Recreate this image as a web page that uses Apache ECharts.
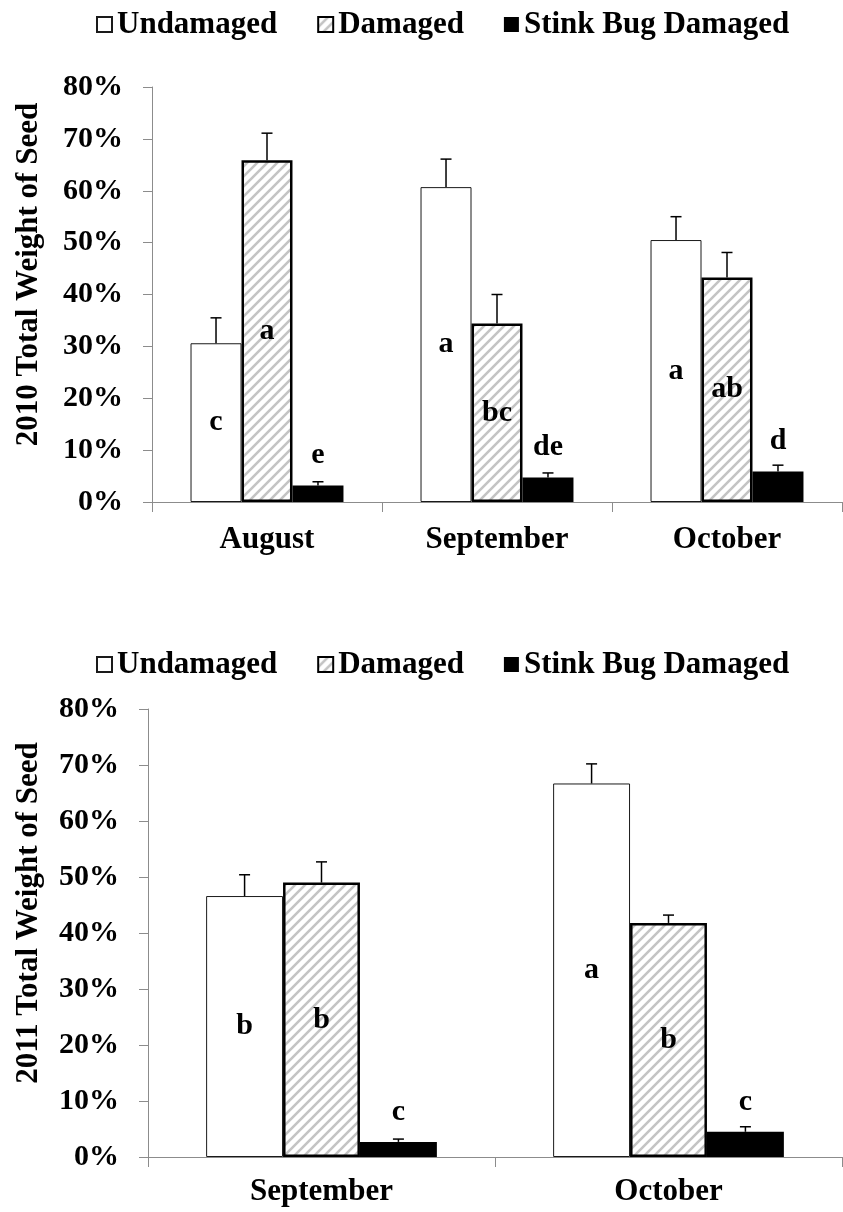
<!DOCTYPE html>
<html>
<head>
<meta charset="utf-8">
<script src="https://cdn.jsdelivr.net/npm/echarts@6/dist/echarts.min.js"></script>
<style>
  html, body { margin: 0; padding: 0; background: #fff; }
  #chart { width: 843px; height: 1212px; }
</style>
</head>
<body>
<div id="chart"></div>
<script>
// ---- data: seed weight share (%) by damage class ----
const seriesNames = ['Undamaged', 'Damaged', 'Stink Bug Damaged'];
const yTickValues = [0, 10, 20, 30, 40, 50, 60, 70, 80];

// 2010 season
const months2010 = ['August', 'September', 'October'];
const undamaged2010 = [30.6, 60.7, 50.5];
const undamagedErr2010 = [4.9, 5.4, 4.5];
const damaged2010 = [65.9, 34.4, 43.3];
const damagedErr2010 = [5.2, 5.6, 4.8];
const stink2010 = [3.2, 4.7, 5.9];
const stinkErr2010 = [0.7, 0.9, 1.2];
const undamagedLetters2010 = ['c', 'a', 'a'];
const damagedLetters2010 = ['a', 'bc', 'ab'];
const stinkLetters2010 = ['e', 'de', 'd'];

// 2011 season
const months2011 = ['September', 'October'];
const undamaged2011 = [46.6, 66.7];
const undamagedErr2011 = [3.8, 3.5];
const damaged2011 = [49.0, 41.8];
const damagedErr2011 = [3.7, 1.4];
const stink2011 = [2.7, 4.5];
const stinkErr2011 = [0.5, 0.9];
const undamagedLetters2011 = ['b', 'a'];
const damagedLetters2011 = ['b', 'b'];
const stinkLetters2011 = ['c', 'c'];

// ---- styling ----
const FONT = "'Liberation Serif', 'Times New Roman', serif";
const AXIS_GREY = '#8c8c8c';
const CAT_GAP = 0.335;          // share of each category left empty
const BAR_COUNT = 3;

// light grey "/" hatching for the Damaged bars
function hatchCanvas() {
  const s = 10;
  const c = document.createElement('canvas');
  c.width = s; c.height = s;
  const g = c.getContext('2d');
  g.fillStyle = '#ffffff';
  g.fillRect(0, 0, s, s);
  g.strokeStyle = '#c4c4c4';
  g.lineWidth = 2.6;
  g.beginPath();
  g.moveTo(-2, s + 2); g.lineTo(s + 2, -2);
  g.moveTo(-2, 2); g.lineTo(2, -2);
  g.moveTo(s - 2, s + 2); g.lineTo(s + 2, s - 2);
  g.stroke();
  return c;
}
const hatch = { image: hatchCanvas(), repeat: 'repeat' };

const letterStyle = {
  show: true,
  fontFamily: FONT,
  fontWeight: 'bold',
  fontSize: 30,
  color: '#000'
};

const barStyles = [
  { color: '#ffffff', borderColor: '#1a1a1a', borderWidth: 1 },
  { color: hatch, borderColor: '#000000', borderWidth: 2.5 },
  { color: '#000000', borderColor: '#000000', borderWidth: 0 }
];

function barSeries(idx, name, values, letters, slot, above) {
  return {
    type: 'bar',
    name: name,
    xAxisIndex: idx,
    yAxisIndex: idx,
    data: values,
    barGap: '0%',
    barCategoryGap: (CAT_GAP * 100) + '%',
    itemStyle: barStyles[slot],
    label: Object.assign({}, letterStyle, {
      position: above ? 'top' : 'inside',
      distance: above ? 15 : 0,
      formatter: (p) => letters[p.dataIndex]
    }),
    z: 2
  };
}

// upward standard-error whisker with a small cap, centred on its bar
function errorSeries(idx, values, errs, slot) {
  return {
    type: 'custom',
    xAxisIndex: idx,
    yAxisIndex: idx,
    data: values.map((v, i) => [i, v, v + errs[i]]),
    encode: { x: 0, y: [1, 2] },
    silent: true,
    z: 3,
    renderItem: (params, api) => {
      const cat = api.value(0);
      const base = api.coord([cat, api.value(1)]);
      const top = api.coord([cat, api.value(2)]);
      const band = api.size([1, 0])[0];
      const barW = band * (1 - CAT_GAP) / BAR_COUNT;
      const x = base[0] + (slot - 1) * barW;
      const cap = 5.5;
      const st = { stroke: '#000', lineWidth: 1.5 };
      return {
        type: 'group',
        children: [
          { type: 'line', shape: { x1: x, y1: base[1], x2: x, y2: top[1] }, style: st },
          { type: 'line', shape: { x1: x - cap, y1: top[1], x2: x + cap, y2: top[1] }, style: st }
        ]
      };
    }
  };
}

function legendAt(top) {
  return {
    top: top,
    left: 91,
    icon: 'rect',
    itemWidth: 15,
    itemHeight: 15,
    itemGap: 40,
    selectedMode: false,
    data: seriesNames,
    textStyle: { fontFamily: FONT, fontWeight: 'bold', fontSize: 31, color: '#000' }
  };
}

function xAxisFor(idx, cats, margin) {
  return {
    gridIndex: idx,
    type: 'category',
    data: cats,
    axisLine: { lineStyle: { color: AXIS_GREY, width: 1 } },
    axisTick: { show: true, length: 10, lineStyle: { color: AXIS_GREY } },
    axisLabel: { margin: margin, fontFamily: FONT, fontWeight: 'bold', fontSize: 31, color: '#000' },
    splitLine: { show: false }
  };
}

function yAxisFor(idx, title, gap) {
  return {
    gridIndex: idx,
    type: 'value',
    min: yTickValues[0],
    max: yTickValues[yTickValues.length - 1],
    interval: yTickValues[1] - yTickValues[0],
    axisLine: { show: true, lineStyle: { color: AXIS_GREY, width: 1 } },
    axisTick: { show: true, length: 9, lineStyle: { color: AXIS_GREY } },
    splitLine: { show: false },
    axisLabel: { formatter: '{value}%', margin: 29, fontFamily: FONT, fontWeight: 'bold', fontSize: 30, color: '#000' },
    name: title,
    nameLocation: 'middle',
    nameGap: gap,
    nameTextStyle: { fontFamily: FONT, fontWeight: 'bold', fontSize: 31, color: '#000', padding: [0, 0, 0, 40] }
  };
}

const option = {
  animation: false,
  backgroundColor: '#ffffff',
  legend: [legendAt(4), legendAt(644)],
  grid: [
    { left: 152, right: 1, top: 87, height: 415 },
    { left: 148, right: 1, top: 709, height: 448 }
  ],
  xAxis: [xAxisFor(0, months2010, 22), xAxisFor(1, months2011, 19)],
  yAxis: [yAxisFor(0, '2010 Total Weight of Seed', 108), yAxisFor(1, '2011 Total Weight of Seed', 104)],
  series: [
    barSeries(0, seriesNames[0], undamaged2010, undamagedLetters2010, 0, false),
    barSeries(0, seriesNames[1], damaged2010, damagedLetters2010, 1, false),
    barSeries(0, seriesNames[2], stink2010, stinkLetters2010, 2, true),
    errorSeries(0, undamaged2010, undamagedErr2010, 0),
    errorSeries(0, damaged2010, damagedErr2010, 1),
    errorSeries(0, stink2010, stinkErr2010, 2),

    barSeries(1, seriesNames[0], undamaged2011, undamagedLetters2011, 0, false),
    barSeries(1, seriesNames[1], damaged2011, damagedLetters2011, 1, false),
    barSeries(1, seriesNames[2], stink2011, stinkLetters2011, 2, true),
    errorSeries(1, undamaged2011, undamagedErr2011, 0),
    errorSeries(1, damaged2011, damagedErr2011, 1),
    errorSeries(1, stink2011, stinkErr2011, 2)
  ]
};

const chart = echarts.init(document.getElementById('chart'), null, { renderer: 'canvas' });
chart.setOption(option);
</script>
</body>
</html>
